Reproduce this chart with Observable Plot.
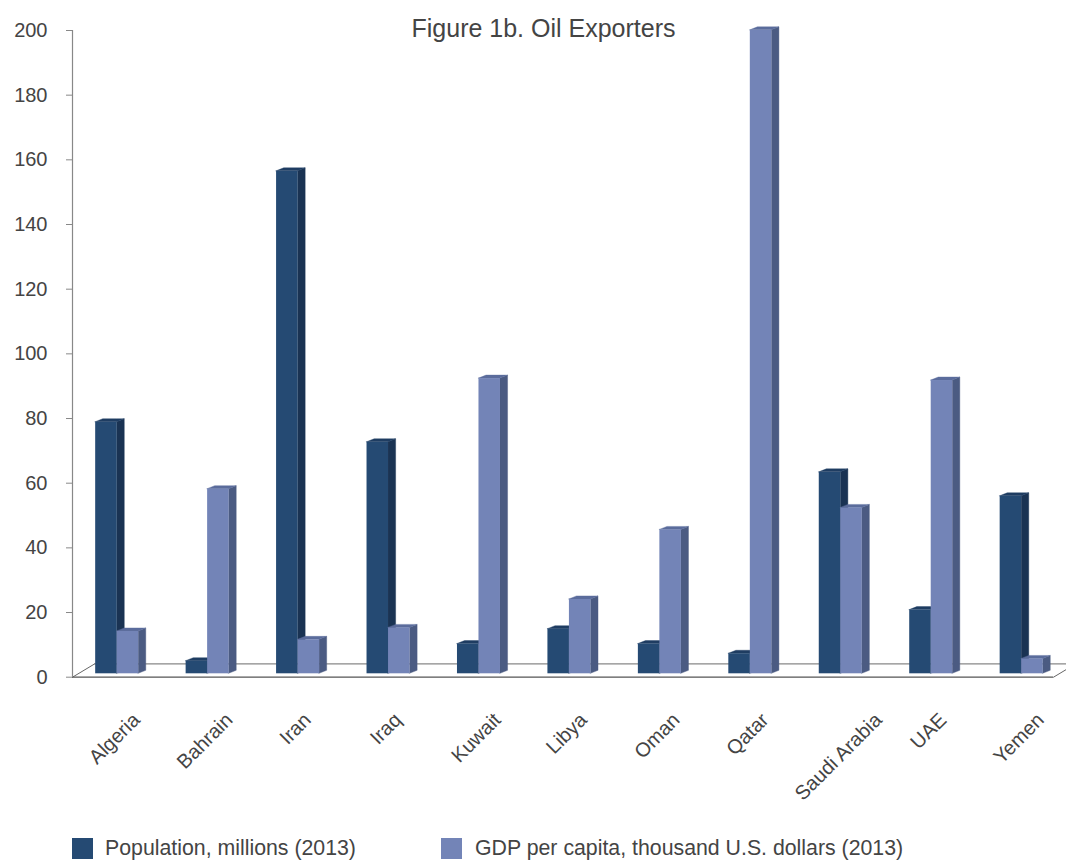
<!DOCTYPE html>
<html>
<head>
<meta charset="utf-8">
<script src="https://cdn.jsdelivr.net/npm/d3@7"></script>
<script src="https://cdn.jsdelivr.net/npm/@observablehq/plot@0.6"></script>
<style>
  html, body { margin: 0; padding: 0; background: #fff; overflow: hidden; }
  #wrap { position: relative; width: 1066px; height: 862px; font-family: "Liberation Sans", Arial, sans-serif; color: #444; }
  #chart { position: absolute; left: 0; top: 0; }
  #title { position: absolute; left: 0; width: 1087px; top: 16px; text-align: center; font-size: 25px; line-height: 25px; color: #444; }
  .leg { position: absolute; top: 838px; height: 21px; font-size: 21.3px; line-height: 21px; color: #444; white-space: nowrap; }
  .sw { position: absolute; top: 838px; width: 21px; height: 21px; }
</style>
</head>
<body>
<div id="wrap">
  <div id="chart"></div>
  <div id="title">Figure 1b. Oil Exporters</div>
  <div id="legend"></div>
</div>
<script>
// ---- data ----
const countries = ["Algeria", "Bahrain", "Iran", "Iraq", "Kuwait", "Libya", "Oman", "Qatar", "Saudi Arabia", "UAE", "Yemen"];
const population = [77.8, 3.9, 155.4, 71.6, 9.2, 13.8, 9.2, 6.2, 62.3, 19.7, 54.9];
const gdpPerCapita = [13.1, 57.1, 10.5, 14.2, 91.3, 23.0, 44.5, 199.0, 51.3, 90.7, 4.6];
const yTicks = [0, 20, 40, 60, 80, 100, 120, 140, 160, 180, 200];
const seriesNames = ["Population, millions (2013)", "GDP per capita, thousand U.S. dollars (2013)"];

// ---- styling / geometry ----
const W = 1066, H = 830;
const marginLeft = 72, marginRight = 13, marginTop = 30, marginBottom = 153.3;
const xDomain = [-0.494, 10.352];
const pxPerX = (W - marginLeft - marginRight) / (xDomain[1] - xDomain[0]);
const pxPerY = (H - marginTop - marginBottom) / 200;
const barW = 21.5 / pxPerX;          // bar width in x units
const depthX = 7.6 / pxPerX;         // 3D side depth
const depthY = 3.0 / pxPerY;
const floorX = 22.3 / pxPerX;        // floor depth
const floorY = 13.4 / pxPerY;
const barLift = -3.4;                // bars stand in the middle of the floor

const palette = {
  pop: {front: "#254a73", side: "#1a3353", top: "#1f3d62"},
  gdp: {front: "#7384b7", side: "#4b5b82", top: "#5b6c9c"}
};

function buildBars(values, key, offset) {
  const rows = values.map((v, i) => ({i, v, x1: i + offset, x2: i + offset + barW}));
  const side = [], top = [];
  rows.forEach((r, k) => {
    side.push({id: k, x: r.x2, y1: 0, y2: r.v});
    side.push({id: k, x: r.x2 + depthX, y1: depthY, y2: r.v + depthY});
    top.push({id: k, x: r.x1, y1: r.v, y2: r.v});
    top.push({id: k, x: r.x1 + depthX, y1: r.v, y2: r.v + depthY});
    top.push({id: k, x: r.x2, y1: r.v, y2: r.v + depthY});
    top.push({id: k, x: r.x2 + depthX, y1: r.v + depthY, y2: r.v + depthY});
  });
  const c = palette[key];
  return [
    Plot.areaY(side, {x: "x", y1: "y1", y2: "y2", z: "id", fill: c.side, stroke: c.side, strokeWidth: 0.4, dy: barLift}),
    Plot.areaY(top, {x: "x", y1: "y1", y2: "y2", z: "id", fill: c.top, stroke: c.top, strokeWidth: 0.4, dy: barLift}),
    Plot.rect(rows, {x1: "x1", x2: "x2", y1: 0, y2: "v", fill: c.front, dy: barLift})
  ];
}

// label offsets: centre rotated labels on the category
const ctx = document.createElement("canvas").getContext("2d");
ctx.font = "20px 'Liberation Sans'";
const labelX = countries.map((c, i) => {
  const L = ctx.measureText(c).width;
  return i + (-3.5 + 0.354 * (L - 13.4)) / pxPerX;
});

const floorBack = [{x: xDomain[0] + floorX, y: floorY}, {x: xDomain[1] + floorX, y: floorY}];
const floorLeft = [{x: xDomain[0], y: 0}, {x: xDomain[0] + floorX, y: floorY}];
const floorRight = [{x: xDomain[1], y: 0}, {x: xDomain[1] + floorX, y: floorY}];

const chart = Plot.plot({
  width: W, height: H,
  marginLeft, marginRight, marginTop, marginBottom,
  x: {type: "linear", domain: xDomain, axis: null},
  y: {domain: [0, 200], axis: null},
  style: {fontFamily: "'Liberation Sans', Arial, sans-serif", color: "#444", background: "#fff", overflow: "visible"},
  marks: [
    Plot.line(floorBack, {x: "x", y: "y", stroke: "#888", strokeWidth: 1.2}),
    Plot.line(floorLeft, {x: "x", y: "y", stroke: "#666", strokeWidth: 1}),
    Plot.line(floorRight, {x: "x", y: "y", stroke: "#666", strokeWidth: 1}),
    Plot.ruleY([0], {x1: xDomain[0], x2: xDomain[1], stroke: "#555", strokeWidth: 1.3}),
    Plot.ruleX([xDomain[0]], {y1: 0, y2: 200, stroke: "#888", strokeWidth: 1.2}),
    Plot.axisY({ticks: yTicks, tickSize: 6, tickPadding: 19, fontSize: 20, stroke: "#888", fill: "#444"}),
    ...buildBars(population, "pop", -barW),
    ...buildBars(gdpPerCapita, "gdp", 0),
    Plot.text(countries, {x: (d, i) => labelX[i], frameAnchor: "bottom", text: d => d, rotate: -45,
      textAnchor: "end", lineAnchor: "top", dy: 34, fontSize: 20, fill: "#444"})
  ]
});
document.getElementById("chart").appendChild(chart);

// legend
const legend = document.getElementById("legend");
const legX = [{sw: 72, tx: 105}, {sw: 441, tx: 475}];
[palette.pop.front, palette.gdp.front].forEach((col, k) => {
  const s = document.createElement("div");
  s.className = "sw"; s.style.left = legX[k].sw + "px"; s.style.background = col;
  legend.appendChild(s);
  const t = document.createElement("div");
  t.className = "leg"; t.style.left = legX[k].tx + "px"; t.textContent = seriesNames[k];
  legend.appendChild(t);
});
</script>
</body>
</html>
